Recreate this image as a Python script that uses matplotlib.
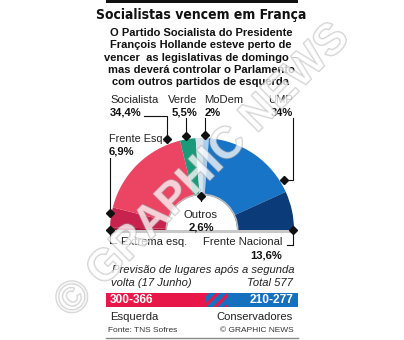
import numpy as np
import matplotlib
matplotlib.use("Agg")
from matplotlib import pyplot as plt
from matplotlib import patches
from matplotlib import patheffects as pe

# seat shares (%) left to right across the hemicycle
parties = ["Extrema esq.", "Frente Esq.", "Socialista", "Verde", "Outros",
           "MoDem", "UMP", "Frente Nacional"]
shares = [1.0, 6.9, 34.4, 5.5, 2.6, 2.0, 34.0, 13.6]
share_labels = ["", "6,9%", "34,4%", "5,5%", "2,6%", "2%", "34%", "13,6%"]
colours = ["#A8173C", "#C8234E", "#EC4463", "#1B9A7A", "#D9E3EC",
           "#A9CDEE", "#1874C6", "#0B3B79"]

# projected seat ranges after the second round
left_range = "300-366"
right_range = "210-277"
left_seats = (300, 366)
right_seats = (210, 277)
total_seats = 577

RED = "#E8174A"
BLUE = "#1570C0"

plt.rcParams['font.family'] = ['Liberation Sans', 'DejaVu Sans']

fig = plt.figure(figsize=(4.04, 3.40), dpi=100)
ax = fig.add_axes([0, 0, 1, 1])
ax.set_xlim(0, 404)
ax.set_ylim(340, 0)
ax.axis('off')

# header rule + title
ax.add_patch(patches.Rectangle((106, 0), 192, 3, color='#111111', lw=0))
ax.text(201, 15.5, "Socialistas vencem em França", ha='center', va='center',
        fontsize=10, fontweight='bold', fontstretch='condensed',
        family=['DejaVu Sans'], color='#111111')
subtitle = ["O Partido Socialista do Presidente",
            "François Hollande esteve perto de",
            "vencer  as legislativas de domingo –",
            "mas deverá controlar o Parlamento",
            "com outros partidos de esquerda"]
for i, line in enumerate(subtitle):
    ax.text(201, 33 + i * 12.3, line, ha='center', va='center', fontsize=8.0,
            fontweight='bold', color='#111111')

# hemicycle
cx, cy, r_out, r_in = 202, 230, 92, 35
ax.add_patch(patches.Rectangle((cx - r_out, cy), 2 * r_out, 2.5, color='#C8C8C8', lw=0))
edges = 180 + 180 * np.concatenate([[0], np.cumsum(shares)]) / sum(shares)
for i in range(len(shares)):
    ax.add_patch(patches.Wedge((cx, cy), r_out, edges[i], edges[i + 1],
                               width=r_out - r_in, facecolor=colours[i], lw=0))
ax.add_patch(patches.Wedge((cx, cy), r_in + 1.5, 180, 360, width=1.5,
                           facecolor='#BBBBBB', lw=0))


def diamond(x, y):
    ax.plot(x, y, marker='D', ms=4.5, color='#111111', zorder=5)


def leader(xs, ys):
    ax.plot(xs, ys, color='#111111', lw=0.8, zorder=4)


lab = dict(fontsize=8.1, color='#222222', va='center')
val = dict(fontsize=8.1, color='#111111', va='center', fontweight='bold')

# Socialista
ax.text(110, 100, parties[2], ha='left', **lab)
ax.text(110, 112.5, share_labels[2], ha='left', **val)
leader([144, 167, 167], [116, 116, 139])
diamond(167, 139)
# Verde
ax.text(183, 100, parties[3], ha='center', **lab)
ax.text(184, 112.5, share_labels[3], ha='center', **val)
leader([186, 186], [118, 136])
diamond(186, 136)
# MoDem
ax.text(204, 100, parties[5], ha='left', **lab)
ax.text(205, 112.5, share_labels[5], ha='left', **val)
leader([205, 205], [118, 135])
diamond(205, 135)
# UMP
ax.text(293, 100, parties[6], ha='right', **lab)
ax.text(293, 112.5, share_labels[6], ha='right', **val)
leader([293, 293, 284], [118, 180, 180])
diamond(284, 180)
# Frente Esq.
ax.text(109, 139, parties[1], ha='left', fontsize=7.8, color='#222222', va='center')
ax.text(109, 152, share_labels[1], ha='left', **val)
leader([110, 110], [158, 213])
diamond(110, 213)
# Extrema esq.
leader([110, 110, 116], [230, 243, 243])
diamond(110, 230)
ax.text(121, 242, parties[0], ha='left', **lab)
# Outros
leader([201, 201], [196, 201])
diamond(201, 196)
ax.text(201, 215, parties[4], ha='center', **lab)
ax.text(201, 228, share_labels[4], ha='center', **val)
# Frente Nacional
leader([293, 293, 287], [230, 245, 245])
diamond(293, 230)
ax.text(282, 242, parties[7], ha='right', **lab)
ax.text(282, 255, share_labels[7], ha='right', **val)

# projection
ital = dict(fontsize=8.1, color='#222222', va='center', style='italic')
ax.text(112, 270, "Previsão de lugares após a segunda", ha='left', **ital)
ax.text(111, 283, "volta (17 Junho)", ha='left', **ital)
ax.text(293, 283, "Total %d" % total_seats, ha='right', **ital)

bx0, bx1, by, bh = 106, 298, 293, 14
scale = (bx1 - bx0) / total_seats
split_lo = bx0 + left_seats[0] * scale
split_hi = bx1 - right_seats[0] * scale
ax.add_patch(patches.Rectangle((bx0, by), split_lo - bx0, bh, facecolor=RED, lw=0))
ax.add_patch(patches.Rectangle((split_hi, by), bx1 - split_hi, bh, facecolor=BLUE, lw=0))
plt.rcParams['hatch.linewidth'] = 2.2
ax.add_patch(patches.Rectangle((split_lo, by), split_hi - split_lo, bh,
                               facecolor=BLUE, edgecolor=RED, hatch='///', lw=0))
ax.text(110, by + bh / 2, left_range, ha='left', va='center', fontsize=8.6,
        fontweight='bold', color='white')
ax.text(294, by + bh / 2, right_range, ha='right', va='center', fontsize=8.6,
        fontweight='bold', color='white')

ax.text(110, 317, "Esquerda", ha='left', **lab)
ax.text(293, 317, "Conservadores", ha='right', **lab)
ax.text(108, 331, "Fonte: TNS Sofres", ha='left', va='center', fontsize=6, color='#333333')
ax.text(294, 331, "© GRAPHIC NEWS", ha='right', va='center', fontsize=6, color='#333333')
ax.plot([106, 298], [338, 338], color='#888888', lw=1)

# watermark
ax.text(203, 171, "© GRAPHIC NEWS", ha='center', va='center', rotation=45,
        fontsize=32, fontweight='bold', color='white', alpha=0.5, zorder=10,
        path_effects=[pe.withStroke(linewidth=1.2, foreground='#A5A5A5')])

fig.savefig("out.png", dpi=100)
